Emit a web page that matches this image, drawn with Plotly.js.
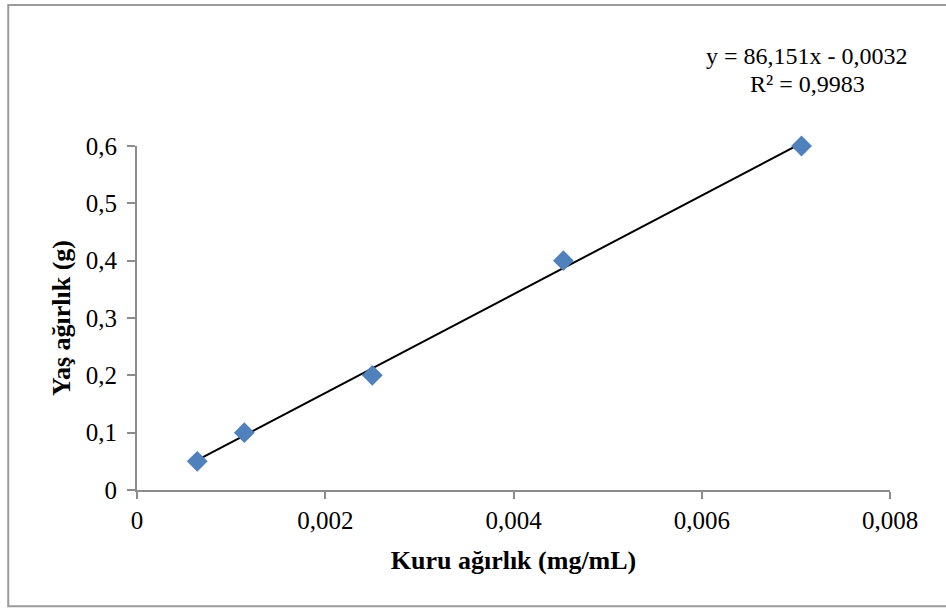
<!DOCTYPE html>
<html>
<head>
<meta charset="utf-8">
<script src="https://cdn.plot.ly/plotly-3.0.1.min.js"></script>
<style>
  html, body { margin: 0; padding: 0; background: #fff; }
  #chart { width: 946px; height: 610px; }
</style>
</head>
<body>
<div id="chart"></div>
<script>
// Data
const kuruAgirlik = [0.00064, 0.00114, 0.0025, 0.00453, 0.00706]; // x (mg/mL)
const yasAgirlik = [0.05, 0.1, 0.2, 0.4, 0.6];                      // y (g)
const slope = 86.151;
const intercept = -0.0032;
const equationLine = "y = 86,151x - 0,0032";
const r2Line = "R² = 0,9983";
const xTickVals = [0, 0.002, 0.004, 0.006, 0.008];
const xTickText = ["0", "0,002", "0,004", "0,006", "0,008"];
const yTickVals = [0, 0.1, 0.2, 0.3, 0.4, 0.5, 0.6];
const yTickText = ["0", "0,1", "0,2", "0,3", "0,4", "0,5", "0,6"];

const xMin = Math.min(...kuruAgirlik), xMax = Math.max(...kuruAgirlik);
const trendX = [xMin, xMax];
const trendY = trendX.map(x => slope * x + intercept);

const serif = "Liberation Serif, Times New Roman, serif";
const axisGray = "#8c8c8c";

const data = [
  {
    x: trendX, y: trendY, type: "scatter", mode: "lines",
    line: { color: "#000000", width: 2 }, cliponaxis: false,
    hoverinfo: "skip", showlegend: false
  },
  {
    x: kuruAgirlik, y: yasAgirlik, type: "scatter", mode: "markers",
    marker: { symbol: "diamond", size: 16, color: "#4f81bd" }, cliponaxis: false,
    hoverinfo: "x+y", showlegend: false
  }
];

const layout = {
  width: 946, height: 610,
  margin: { l: 137, r: 56, t: 146, b: 120 },
  paper_bgcolor: "#ffffff", plot_bgcolor: "#ffffff",
  font: { family: serif, size: 25, color: "#000" },
  xaxis: {
    range: [0, 0.008], tickvals: xTickVals, ticktext: xTickText,
    showgrid: false, zeroline: false, showline: true,
    linecolor: axisGray, linewidth: 2,
    ticks: "outside", ticklen: 7, tickwidth: 2, tickcolor: axisGray,
    tickfont: { family: serif, size: 25, color: "#000" },
    title: { text: "<b>Kuru ağırlık (mg/mL)</b>", font: { family: serif, size: 26, color: "#000" }, standoff: 18 }
  },
  yaxis: {
    range: [0, 0.6], tickvals: yTickVals, ticktext: yTickText,
    showgrid: false, zeroline: false, showline: true,
    linecolor: axisGray, linewidth: 2,
    ticks: "outside", ticklen: 8, tickwidth: 2, tickcolor: axisGray,
    ticklabelstandoff: 5,
    tickfont: { family: serif, size: 25, color: "#000" },
    title: { text: "<b>Yaş ağırlık (g)</b>", font: { family: serif, size: 26, color: "#000" }, standoff: 8 }
  },
  annotations: [
    {
      xref: "paper", yref: "paper", x: 0.89, y: 1.261,
      xanchor: "center", yanchor: "middle", showarrow: false,
      text: equationLine, font: { family: serif, size: 24, color: "#000" }
    },
    {
      xref: "paper", yref: "paper", x: 0.89, y: 1.18,
      xanchor: "center", yanchor: "middle", showarrow: false,
      text: r2Line, font: { family: serif, size: 24, color: "#000" }
    }
  ],
  shapes: [
    {
      type: "rect", xref: "paper", yref: "paper",
      x0: -0.171, x1: 1.1, y0: -0.338, y1: 1.41,
      line: { color: "#9a9a9a", width: 2 }, fillcolor: "rgba(0,0,0,0)", layer: "below"
    }
  ]
};

Plotly.newPlot("chart", data, layout, { displayModeBar: false });
</script>
</body>
</html>
